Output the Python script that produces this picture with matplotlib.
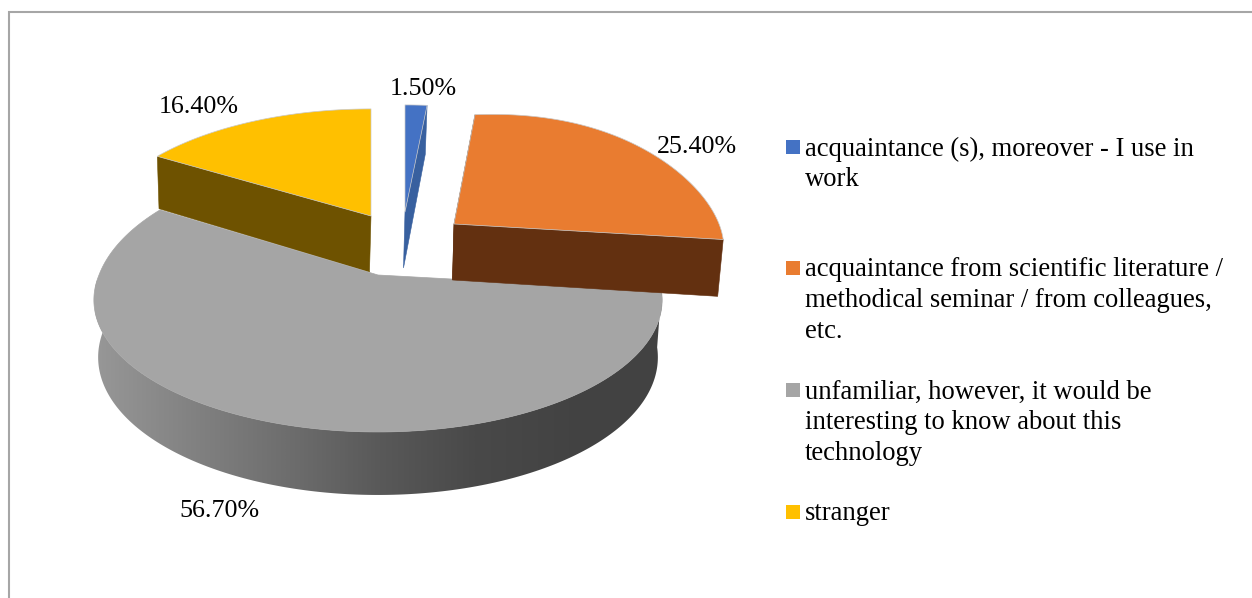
import numpy as np
import matplotlib
matplotlib.use("Agg")
import matplotlib.pyplot as plt
from matplotlib.patches import Polygon, Rectangle
from matplotlib.colors import LinearSegmentedColormap

# Survey answers
categories = [
    "acquaintance (s), moreover - I use in\nwork",
    "acquaintance from scientific literature /\nmethodical seminar / from colleagues,\netc.",
    "unfamiliar, however, it would be\ninteresting to know about this\ntechnology",
    "stranger",
]
shares = [1.5, 25.4, 56.7, 16.4]

# Slice colours
top_colors = ["#4472c4", "#e97c30", "#a5a5a5", "#ffc000"]
side_colors = ["#38609f", "#633010", None, "#6e5200"]
rim_colors = ["#c9c9c9", "#c9c9c9", "#a5a5a5", "#c9c9c9"]

# Layout, in pixels
apexes = [(405, 212), (454, 224), (378, 275), (371, 216)]
x_scale = [1.0, 0.95, 1.0, 0.98]
far_scale = [1.0, 1.01, 1.09, 1.0]
bulge = [0.0, 0.08, 0.0, 0.0]
base_shift = [-1.5, -1.5, 0.0, -1.5]
label_pos = [(423, 89), (697, 147), (219, 511), (199, 107)]
legend_rows = [147, 268, 390, 512]
line_step = 30.8
WIDTH, HEIGHT = 1252, 598
LABEL_PT = 18.72
LEGEND_PT = 19.15


def project(theta, i, bottom=False):
    """Project a rim point of the tilted disc, with perspective, to pixels."""
    t = np.radians(theta)
    x, y = np.sin(t), np.cos(t)
    d = 1 + 0.189 * y
    px = 279 * x_scale[i] * x / d
    stretch = far_scale[i] + bulge[i] * np.abs(np.sin(2 * t))
    py = -127.3 * y / d * np.where(y > 0, stretch, 1.0)
    ax_, ay_ = apexes[i]
    if bottom:
        return ax_ + base_shift[i] + 0.985 * px, ay_ + py + (56 - 7 * y)
    return ax_ + px, ay_ + py


def rim(a, b, i, bottom=False):
    th = np.linspace(a, b, 240)
    return np.column_stack(project(th, i, bottom))


def base_apex(i):
    return apexes[i][0] + base_shift[i], apexes[i][1] + 56


plt.rcParams["font.family"] = ["Liberation Serif", "DejaVu Serif"]
fig = plt.figure(figsize=(WIDTH / 100, HEIGHT / 100), dpi=100)
ax = fig.add_axes([0, 0, 1, 1])
ax.set_xlim(0, WIDTH)
ax.set_ylim(HEIGHT, 0)
ax.axis("off")

# Chart frame: only the top and left edges fall inside the canvas
ax.plot([9, 9, WIDTH], [HEIGHT, 11.5, 11.5], color="#a6a6a6", lw=1.5,
        solid_joinstyle="miter", zorder=1)

edges = np.concatenate([[0], np.cumsum(shares) * 3.6])
spans = list(zip(edges[:-1], edges[1:]))


def radial_side(theta, i, z):
    pts = [apexes[i], project(theta, i), project(theta, i, True), base_apex(i)]
    ax.add_patch(Polygon(pts, closed=True, facecolor=side_colors[i],
                         edgecolor=side_colors[i], linewidth=0.4, zorder=z))


def top_face(i, z):
    a, b = spans[i]
    pts = np.vstack([[apexes[i]], rim(a, b, i)])
    ax.add_patch(Polygon(pts, closed=True, facecolor=top_colors[i], zorder=z,
                         edgecolor=rim_colors[i], linewidth=0.5, joinstyle="round"))


# Yellow slice sits at the back, its start face turned to the viewer
radial_side(spans[3][0], 3, 2)
top_face(3, 3)

# Grey slice: outer wall with a horizontal shading ramp, then the top
a, b = spans[2]
outer_top = rim(a, 282, 2)
outer_bot = rim(a, 282, 2, True)
wall = Polygon(np.vstack([outer_top, outer_bot[::-1]]), closed=True,
               facecolor="none", edgecolor="none", zorder=4)
ax.add_patch(wall)
ramp = LinearSegmentedColormap.from_list(
    "wall", ["#979797", "#828282", "#6e6e6e", "#595959", "#494949", "#434343", "#424242"])
img = ax.imshow(np.linspace(0, 1, 600)[None, :], cmap=ramp, aspect="auto",
                extent=(95, 665, 500, 280), interpolation="bilinear", zorder=4)
img.set_clip_path(wall)
ax.set_xlim(0, WIDTH)
ax.set_ylim(HEIGHT, 0)
top_face(2, 5)

# Blue sliver
radial_side(spans[0][1], 0, 6)
top_face(0, 7)

# Orange slice overlaps the grey one
radial_side(spans[1][0], 1, 8)
a, b = spans[1]
front = np.vstack([rim(a, b, 1)[-1:], rim(a, b, 1, True)[-1:],
                   [base_apex(1)], [apexes[1]]])
ax.add_patch(Polygon(front, closed=True, facecolor=side_colors[1],
                     edgecolor=side_colors[1], linewidth=0.4, zorder=8))
top_face(1, 9)

# Value labels
for value, (x, y) in zip(shares, label_pos):
    ax.text(x, y, f"{value:.2f}%", fontsize=LABEL_PT, color="black",
            ha="center", va="center", zorder=10)

# Legend
for label, color, row in zip(categories, top_colors, legend_rows):
    ax.add_patch(Rectangle((786, row - 7), 14, 14, facecolor=color, edgecolor="none", zorder=10))
    for n, line in enumerate(label.split("\n")):
        ax.text(805, row + 8.5 + n * line_step, line, fontsize=LEGEND_PT,
                color="black", ha="left", va="baseline", zorder=10)

fig.savefig("out.png", dpi=100, facecolor="white")
